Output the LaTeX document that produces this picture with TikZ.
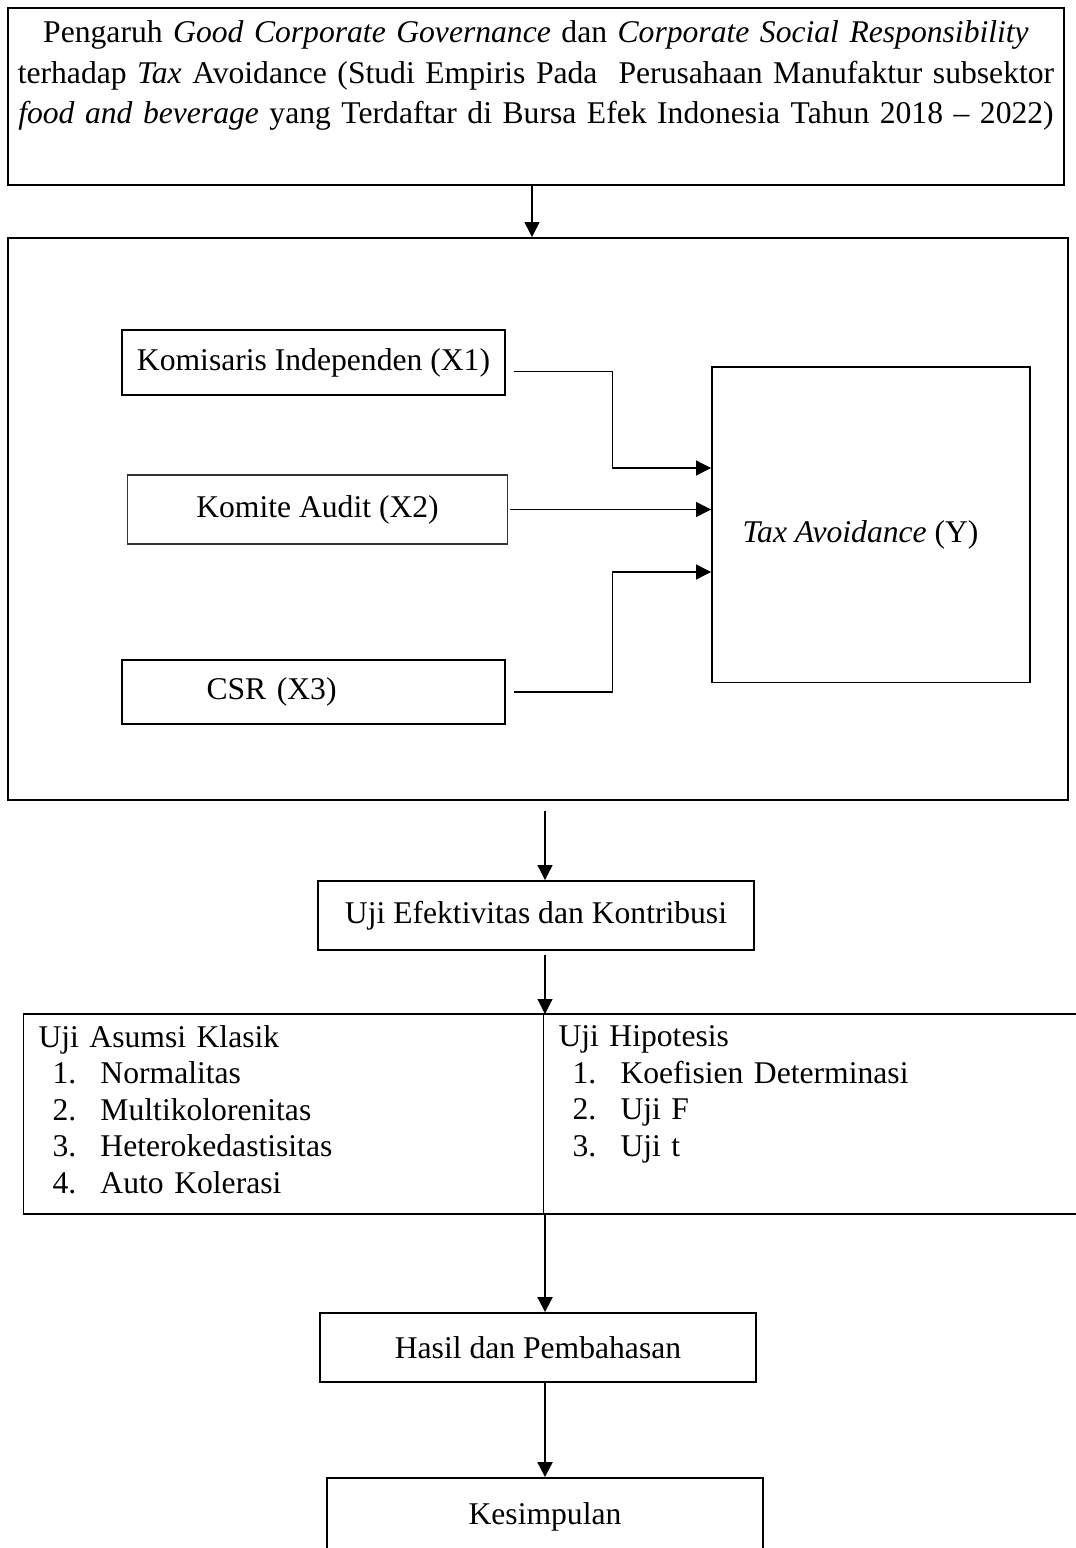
\documentclass[tikz,border=0pt]{standalone}
\usepackage{fontspec}
\setmainfont{Liberation Serif}
\usetikzlibrary{arrows.meta}

\newcommand{\butir}[2]{\hspace*{0.28cm}\makebox[0.96cm][l]{#1}#2}

\begin{document}
\begin{tikzpicture}[x=0.02cm, y=-0.02cm, font=\fontsize{18}{23}\selectfont]
    \tikzset{
        box/.style={draw, line width=1.1pt, inner sep=0pt, align=center},
        listbox/.style={draw, line width=0.6pt, anchor=north west, inner xsep=0.3cm, inner ysep=0pt,
            align=left, minimum height=3.98cm, text depth=3.12cm, font=\fontsize{18}{20.8}\selectfont},
        link/.style={line width=0.6pt, -{Triangle[length=0.3cm,width=0.3cm]}},
        boldlink/.style={link, line width=1.2pt}
    }
    \useasboundingbox (0,0) rectangle (1075,1548);

    \node[box, line width=1.5pt, minimum width=21.12cm, minimum height=3.54cm, text width=20.9cm] (title) at (536,96.5)
        {Pengaruh \textit{Good Corporate Governance} dan \textit{Corporate Social Responsibility}\\
         terhadap \textit{Tax} Avoidance (Studi Empiris Pada~ Perusahaan Manufaktur subsektor\\
         \textit{food and beverage} yang Terdaftar di Bursa Efek Indonesia Tahun 2018 -- 2022)\\[0.16cm]
         \mbox{}};
    \node[box, minimum width=21.2cm, minimum height=11.24cm] (frame) at (538,519) {};

    % variabel
    \node[box, minimum width=7.66cm, minimum height=1.3cm] (kom) at (313.5,362.5) {Komisaris Independen (X1)};
    \node[box, line width=0.6pt, draw=black!80, minimum width=7.62cm, minimum height=1.38cm] (aud) at (317.5,509.5) {Komite Audit (X2)};
    \node[box, minimum height=1.28cm, text width=7.66cm, align=left] (csr) at (313.5,692) {\hspace*{1.69cm}CSR (X3)};
    \node[box, minimum width=6.36cm, minimum height=6.32cm, text height=0.81cm, text depth=0.11cm] (tax) at (871,524.5)
        {\textit{Tax Avoidance} (Y)\hspace*{0.42cm}\mbox{}};

    \draw[link] ([xshift=0.16cm,yshift=-0.18cm]kom.east) -| ([xshift=-1.98cm,yshift=1.13cm]tax.west) -- ([yshift=1.13cm]tax.west);
    \draw[link] ([xshift=0.04cm]aud.east) -- (aud.east -| tax.west);
    \draw[link] ([xshift=0.16cm]csr.east) -| ([xshift=-1.98cm,yshift=-0.95cm]tax.west) -- ([yshift=-0.95cm]tax.west);
    \draw[link] ([xshift=-0.08cm]title.south) -- ([xshift=-0.08cm]title.south |- frame.north);

    % alur analisis
    \coordinate (spine) at (545,0);
    \node[box, minimum width=8.72cm, minimum height=1.38cm] (uji) at (536,915.5) {Uji Efektivitas dan Kontribusi};
    \node[listbox, text width=9.8cm] (asumsi) at (23,1014)
        {Uji Asumsi Klasik\\
         \butir{1.}{Normalitas}\\
         \butir{2.}{Multikolorenitas}\\
         \butir{3.}{Heterokedastisitas}\\
         \butir{4.}{Auto Kolerasi}};
    \node[listbox, text width=10.6cm] (hipotesis) at (543,1014)
        {Uji Hipotesis\\
         \butir{1.}{Koefisien Determinasi}\\
         \butir{2.}{Uji F}\\
         \butir{3.}{Uji t}\\
         \mbox{}};
    \draw[line width=1.6pt] (asumsi.north west) -- (hipotesis.north east);
    \draw[line width=1.6pt] (asumsi.south west) -- (hipotesis.south east);
    \node[box, minimum width=8.72cm, minimum height=1.38cm] (hasil) at (538,1347.5) {Hasil dan Pembahasan};
    \node[box, minimum width=8.72cm, minimum height=1.56cm] (kes) at (545,1517) {Kesimpulan};

    \draw[link] ([yshift=-0.2cm]frame.south -| spine) -- (spine |- uji.north);
    \draw[link] ([yshift=-0.08cm]uji.south -| spine) -- (spine |- asumsi.north);
    \draw[boldlink] (spine |- asumsi.south) -- (spine |- hasil.north);
    \draw[boldlink] (spine |- hasil.south) -- (spine |- kes.north);
\end{tikzpicture}
\end{document}
